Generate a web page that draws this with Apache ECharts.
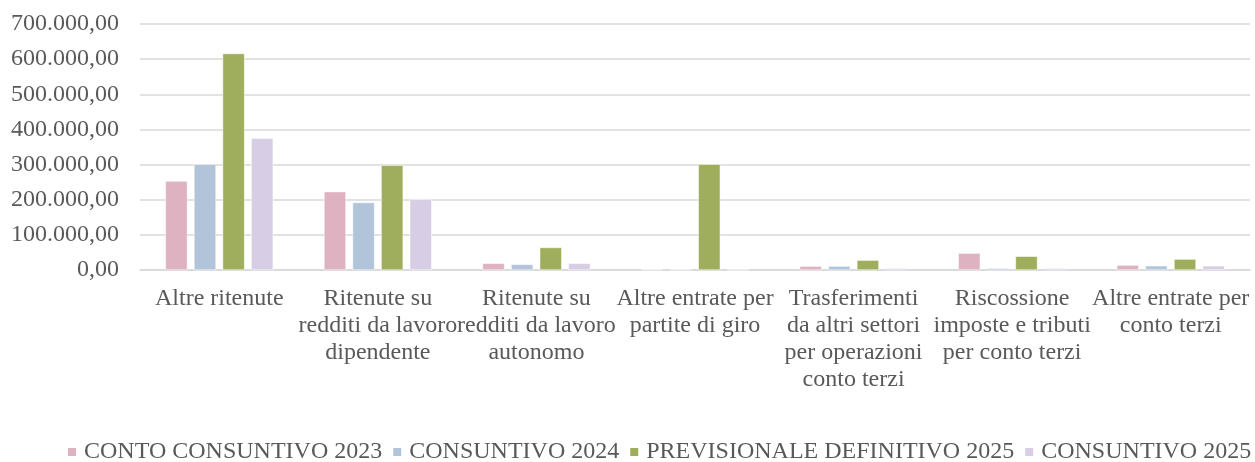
<!DOCTYPE html>
<html>
<head>
<meta charset="utf-8">
<script src="https://cdn.jsdelivr.net/npm/echarts@6/dist/echarts.min.js"></script>
<style>
  html, body { margin: 0; padding: 0; background: #fff; }
  #chart { width: 1255px; height: 462px; }
</style>
</head>
<body>
<div id="chart"></div>
<script>
// categorie (a capo come nel grafico originale)
const categories = [
  'Altre ritenute',
  'Ritenute su\nredditi da lavoro\ndipendente',
  'Ritenute su\nredditi da lavoro\nautonomo',
  'Altre entrate per\npartite di giro',
  'Trasferimenti\nda altri settori\nper operazioni\nconto terzi',
  'Riscossione\nimposte e tributi\nper conto terzi',
  'Altre entrate per\nconto terzi'
];

const seriesNames = [
  'CONTO CONSUNTIVO 2023',
  'CONSUNTIVO 2024',
  'PREVISIONALE DEFINITIVO 2025',
  'CONSUNTIVO 2025'
];

const consuntivo2023 = [253000, 223000, 19000, 1500, 11000, 48000, 14000];
const consuntivo2024 = [301000, 192000, 16000, 1500, 11000, 5000, 12000];
const previsionale2025 = [616000, 298000, 64000, 301000, 28000, 39000, 31000];
const consuntivo2025 = [375000, 201000, 19000, 800, 5000, 5000, 12000];

const colors = ['#DEB2C1', '#B2C4DA', '#9EAE5C', '#D7CDE5'];

const chart = echarts.init(document.getElementById('chart'));

// formato italiano: 700.000,00
function fmt(v) {
  const s = Math.round(v).toString().replace(/\B(?=(\d{3})+(?!\d))/g, '.');
  return s + ',00';
}

const font = 'Liberation Serif';
const dataList = [consuntivo2023, consuntivo2024, previsionale2025, consuntivo2025];

chart.setOption({
  animation: false,
  color: colors,
  textStyle: { fontFamily: font },
  grid: { left: 140, right: 5, top: 24, bottom: 192, containLabel: false },
  legend: {
    left: 66,
    top: 440,
    width: 1189,
    padding: 0,
    itemWidth: 10,
    itemHeight: 10,
    itemGap: 9,
    icon: 'rect',
    textStyle: { fontFamily: font, fontSize: 24, color: '#595959', padding: [0, 0, 0, 2] },
    data: seriesNames
  },
  xAxis: {
    type: 'category',
    data: categories,
    axisLine: { lineStyle: { color: '#d9d9d9', width: 1.5 } },
    axisTick: { show: false },
    axisLabel: {
      interval: 0,
      margin: 15,
      fontFamily: font,
      fontSize: 24,
      lineHeight: 27,
      color: '#595959'
    }
  },
  yAxis: {
    type: 'value',
    min: 0,
    max: 700000,
    interval: 100000,
    axisLine: { show: false },
    axisTick: { show: false },
    splitLine: { lineStyle: { color: '#d9d9d9', width: 1.5 } },
    axisLabel: {
      margin: 21,
      fontFamily: font,
      fontSize: 24,
      color: '#595959',
      formatter: fmt
    }
  },
  series: seriesNames.map((name, i) => ({
    name: name,
    type: 'bar',
    data: dataList[i],
    barWidth: 22,
    barGap: '30%',
    itemStyle: { borderColor: '#ffffff', borderWidth: 0.5 }
  }))
});
</script>
</body>
</html>
